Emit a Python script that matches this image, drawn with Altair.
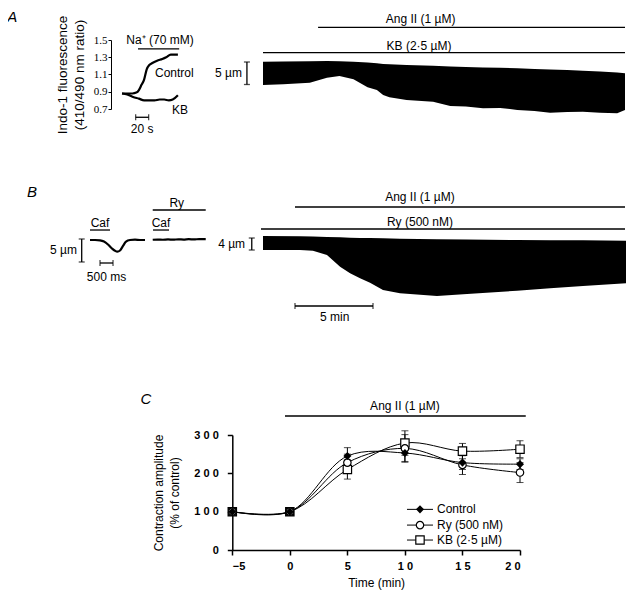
import altair as alt
import pandas as pd

# ====================== values ======================
# Panel A, left: indo-1 fluorescence ratio (410/490 nm) vs time (s)
na_ctrl_time = [0, 8, 16, 22, 26, 30, 34, 38, 42, 46, 54, 62, 68, 75, 86]
na_ctrl_ratio = [0.88, 0.88, 0.88, 0.89, 0.92, 0.98, 1.04, 1.16, 1.21, 1.23, 1.26, 1.28, 1.30, 1.33, 1.33]
na_kb_time = [0, 8, 17, 26, 34, 42, 50, 58, 65, 72, 78, 86]
na_kb_ratio = [0.88, 0.87, 0.84, 0.82, 0.80, 0.80, 0.80, 0.81, 0.81, 0.80, 0.81, 0.86]
ratio_ticks = [0.7, 0.9, 1.1, 1.3, 1.5]

# Panel A, right: cell length envelope in KB + Ang II (time in min, length in um)
kb_cell_time = [0, 1.3, 3.0, 4.1, 4.9, 5.8, 6.7, 7.3, 7.7, 8.1, 9.2, 10.9, 12.0, 13.0,
                14.1, 15.2, 16.3, 17.4, 18.4, 19.5, 20.5, 21.6, 22.7, 23.2]
kb_cell_top = [0.07, 0.11, 0.18, 0.22, 0.16, 0.04, -0.11, -0.3, -0.44, -0.51, -0.67, -0.84,
               -1.0, -1.1, -1.22, -1.3, -1.4, -1.53, -1.67, -1.8, -1.93, -2.13, -2.33, -2.51]
kb_cell_bottom = [-5.11, -4.96, -4.6, -3.49, -3.11, -3.84, -5.62, -6.2, -7.33, -7.84, -8.44,
                  -8.82, -9.78, -9.9, -10.29, -10.2, -10.67, -10.9, -11.27, -11.1, -11.04,
                  -11.3, -11.4, -10.67]

# Panel B, left: caffeine-induced contractures (time in ms, length in um)
caf_time = [0, 192, 385, 538, 692, 846, 962, 1050, 1154, 1269, 1385, 1538, 1731, 1923, 2115]
caf_length = [0, 0, -0.07, -0.33, -0.98, -1.85, -2.35, -2.54, -2.28, -1.30, -0.33, 0, 0.07, 0, 0]
caf_ry_time = [2412, 2600, 2800, 3000, 3200, 3400, 3600, 3800, 4000, 4200, 4450]
caf_ry_length = [0.05, 0.1, 0.05, 0.12, 0.08, 0.15, 0.1, 0.18, 0.12, 0.2, 0.2]

# Panel B, right: cell length envelope in Ry + Ang II (time in min, length in um)
ry_cell_time = [0, 2.37, 3.2, 4.1, 4.94, 5.58, 6.22, 6.86, 7.69, 8.78, 11.15, 13.08,
                16.28, 18.4, 20.51, 23.33]
ry_cell_top = [0, -0.1, -0.2, -0.3, -0.45, -0.57, -0.65, -0.7, -0.77, -0.9, -1.05, -1.15,
               -1.33, -1.38, -1.43, -1.57]
ry_cell_bottom = [-4.67, -4.67, -4.9, -6.33, -10.23, -12.43, -14.1, -15.57, -18.0, -19.1,
                  -20.0, -19.33, -18.23, -17.43, -16.67, -15.77]

# Panel C: contraction amplitude (% of control), mean and SEM
c_time = [-5, 0, 5, 10, 15, 20]
c_series = ["Control", "Ry (500 nM)", "KB (2·5 µM)"]
c_control = [100, 100, 245, 253, 228, 224]
c_control_sem = [0, 0, 22, 22, 18, 14]
c_ry = [100, 100, 228, 265, 222, 202]
c_ry_sem = [0, 0, 22, 36, 25, 26]
c_kb = [100, 100, 210, 279, 258, 263]
c_kb_sem = [0, 0, 25, 32, 20, 22]
c_amp_ticks = [0, 100, 200, 300]

# ====================== layout (page pixels) ======================
M = 8          # body margin of the page
W, H = 618, 583
FONT = "Liberation Sans"

FRAMES = {
    "A1": {"x": ([0, 88], (122, 179.2)), "y": ([0.7, 1.5], (109, 40))},
    "A2": {"x": ([0, 23.2], (263, 625)), "y": ([-10, 0], (107, 62))},
    "B1": {"x": ([0, 2115], (90, 145)), "y": ([-5, 0], (263, 240))},
    "B2": {"x": ([0, 23.2], (263, 625)), "y": ([-20, 0], (296, 236))},
    "C": {"x": ([-5, 20], (232.3, 520)), "y": ([0, 300], (550, 435))},
}


def sc(frame, ch):
    dom, (r0, r1) = FRAMES[frame][ch]
    return alt.Scale(domain=dom, range=[r0 - M, r1 - M], zero=False, nice=False)


def X(field, frame, axis=None):
    return alt.X(field, type="quantitative", scale=sc(frame, "x"), axis=axis)


def Y(field, frame, axis=None):
    return alt.Y(field, type="quantitative", scale=sc(frame, "y"), axis=axis)


def texts(frame, rows, align="center", size=12, style="normal"):
    df = pd.DataFrame(rows, columns=["x", "y", "label"])
    return alt.Chart(df).mark_text(
        align=align, baseline="middle", fontSize=size, fontStyle=style, font=FONT, color="black"
    ).encode(x=X("x", frame), y=Y("y", frame), text="label:N")


def rules(frame, rows, width=1.3):
    df = pd.DataFrame(rows, columns=["x0", "x1", "y"])
    return alt.Chart(df).mark_rule(color="black", strokeWidth=width).encode(
        x=X("x0", frame), x2="x1:Q", y=Y("y", frame))


def hbar(frame, rows):
    df = pd.DataFrame(rows, columns=["x0", "x1", "y"])
    return alt.Chart(df).mark_errorbar(color="black", thickness=1.3, ticks={"size": 6}).encode(
        x=X("x0", frame), x2="x1:Q", y=Y("y", frame))


def vbar(frame, rows):
    df = pd.DataFrame(rows, columns=["x", "y0", "y1"])
    return alt.Chart(df).mark_errorbar(color="black", thickness=1.3, ticks={"size": 6}).encode(
        x=X("x", frame), y=Y("y0", frame), y2="y1:Q")


layers = []

# ---------------- Panel A, left ----------------
a1 = pd.concat([
    pd.DataFrame({"t": na_ctrl_time, "r": na_ctrl_ratio, "s": "Control"}),
    pd.DataFrame({"t": na_kb_time, "r": na_kb_ratio, "s": "KB"}),
])
a1_axis = alt.Axis(
    orient="left", offset=-(111 - M), values=ratio_ticks, format=".1f",
    labelFont="Liberation Serif", labelFontSize=11, labelPadding=1, labelColor="black",
    tickSize=3, tickColor="black", domainColor="black", grid=False,
    title=["Indo-1 fluorescence", "(410/490 nm ratio)"], titleFont=FONT, titleFontSize=13.5,
    titleFontWeight=400, titleColor="black", titlePadding=7, titleLineHeight=17,
)
layers.append(alt.Chart(a1).mark_line(color="black", strokeWidth=2.2, interpolate="monotone").encode(
    x=X("t", "A1"), y=Y("r", "A1", axis=a1_axis), detail="s:N"))
layers.append(rules("A1", [(24.6, 88, 1.396)]))
layers.append(hbar("A1", [(21, 41, 0.604)]))
layers.append(texts("A1", [(58.5, 1.50, "Na⁺ (70 mM)"), (31, 0.472, "20 s")]))
layers.append(texts("A1", [(50.8, 1.114, "Control"), (77, 0.688, "KB")], align="left"))
layers.append(texts("A1", [(-169, 1.772, "A")], size=15, style="italic"))

# ---------------- Panel A, right ----------------
a2 = pd.DataFrame({"t": kb_cell_time, "top": kb_cell_top, "bot": kb_cell_bottom})
layers.append(alt.Chart(a2).mark_area(color="black", opacity=1).encode(
    x=X("t", "A2"), y=Y("bot", "A2"), y2="top:Q"))
layers.append(rules("A2", [(3.53, 23.2, 7.71), (0, 23.2, 2.08)]))
layers.append(vbar("A2", [(-1.03, 0.0, -5.0)]))
layers.append(texts("A2", [(10.1, 9.58, "Ang II (1 µM)"), (10.0, 3.54, "KB (2·5 µM)")]))
layers.append(texts("A2", [(-1.35, -2.5, "5 µm")], align="right"))

# ---------------- Panel B, left ----------------
b1 = pd.concat([
    pd.DataFrame({"t": caf_time, "v": caf_length, "s": "Caf"}),
    pd.DataFrame({"t": caf_ry_time, "v": caf_ry_length, "s": "Ry + Caf"}),
])
layers.append(alt.Chart(b1).mark_line(color="black", strokeWidth=2.2, interpolate="monotone").encode(
    x=X("t", "B1"), y=Y("v", "B1"), detail="s:N"))
layers.append(rules("B1", [(0, 769, 2.17), (2423, 3038, 2.17), (2412, 4450, 6.52)]))
layers.append(hbar("B1", [(385, 885, -5.0)]))
layers.append(vbar("B1", [(-319, 0.22, -4.78)]))
layers.append(texts("B1", [(385, 3.7, "Caf"), (2731, 3.7, "Caf"), (3335, 8.04, "Ry"),
                           (635, -8.04, "500 ms")]))
layers.append(texts("B1", [(-500, -2.2, "5 µm")], align="right"))
layers.append(texts("B1", [(-2231, 10.4, "B")], size=15, style="italic"))

# ---------------- Panel B, right ----------------
b2 = pd.DataFrame({"t": ry_cell_time, "top": ry_cell_top, "bot": ry_cell_bottom})
layers.append(alt.Chart(b2).mark_area(color="black", opacity=1).encode(
    x=X("t", "B2"), y=Y("bot", "B2"), y2="top:Q"))
layers.append(rules("B2", [(2.05, 23.2, 9.67), (-0.13, 23.2, 2.33)]))
layers.append(hbar("B2", [(2.05, 7.05, -23.33)]))
layers.append(vbar("B2", [(-0.72, -0.67, -4.67)]))
layers.append(texts("B2", [(10.06, 13.0, "Ang II (1 µM)"), (10.06, 4.67, "Ry (500 nM)"),
                           (4.6, -26.9, "5 min")]))
layers.append(texts("B2", [(-1.15, -2.67, "4 µm")], align="right"))

# ---------------- Panel C ----------------
c_means = [c_control, c_ry, c_kb]
c_sems = [c_control_sem, c_ry_sem, c_kb_sem]
c_rows = []
for name, mean, sem in zip(c_series, c_means, c_sems):
    for t, m, s in zip(c_time, mean, sem):
        c_rows.append({"s": name, "t": t, "v": m, "lo": m - s, "hi": m + s, "sem": s})
cdf = pd.DataFrame(c_rows)

spaced = "datum.value < 0 ? datum.label : join(split(datum.label, ''), ' ')"
cx_axis = alt.Axis(
    orient="bottom", offset=550 - (H + M), values=c_time, labelExpr=spaced,
    labelFont=FONT, labelFontWeight="bold", labelFontSize=11, labelPadding=5, labelColor="black",
    tickSize=5, tickWidth=1.5, domainWidth=1.5, tickColor="black", domainColor="black",
    grid=False, title="Time (min)", titleFont=FONT, titleFontSize=12, titleFontWeight=400,
    titleColor="black", titlePadding=6,
)
cy_axis = alt.Axis(
    orient="left", offset=-(232.3 - M), values=c_amp_ticks, labelExpr=spaced,
    labelFont=FONT, labelFontWeight="bold", labelFontSize=11, labelPadding=9, labelColor="black",
    tickSize=5, tickWidth=1.5, domainWidth=1.5, tickColor="black", domainColor="black",
    grid=False, title=["Contraction amplitude", "(% of control)"], titleFont=FONT,
    titleFontSize=12, titleFontWeight=400, titleColor="black", titlePadding=12,
    titleLineHeight=16,
)
layers.append(alt.Chart(cdf).mark_line(color="black", strokeWidth=1, interpolate="catmull-rom").encode(
    x=X("t", "C", axis=cx_axis), y=Y("v", "C", axis=cy_axis), detail="s:N"))
layers.append(alt.Chart(cdf[cdf["sem"] > 0]).mark_errorbar(
    color="black", thickness=1, ticks={"size": 7}).encode(
    x=X("t", "C"), y=Y("lo", "C"), y2="hi:Q"))


def c_points(df):
    out = []
    d_ctrl = df[df["s"] == c_series[0]]
    d_ry = df[df["s"] == c_series[1]]
    d_kb = df[df["s"] == c_series[2]]
    out.append(alt.Chart(d_kb).mark_point(shape="square", size=70, stroke="black", strokeWidth=1.2,
                                          opacity=1).encode(
        x=X("t", "C"), y=Y("v", "C"),
        fill=alt.condition("datum.t <= 0", alt.value("black"), alt.value("white"))))
    out.append(alt.Chart(d_ry).mark_point(shape="circle", size=55, stroke="black", fill="white",
                                          strokeWidth=1.2, opacity=1).encode(
        x=X("t", "C"), y=Y("v", "C")))
    out.append(alt.Chart(d_ctrl).mark_point(shape="diamond", size=65, color="black", filled=True,
                                            opacity=1).encode(
        x=X("t", "C"), y=Y("v", "C")))
    return out


layers.extend(c_points(cdf))
layers.append(rules("C", [(-0.42, 20.5, 349.6)]))
layers.append(texts("C", [(10.0, 375.7, "Ang II (1 µM)")]))
layers.append(texts("C", [(-12.5, 394, "C")], size=15, style="italic"))

# legend (inside the plot, lower right)
leg = pd.DataFrame({"s": c_series, "y": [106, 65, 26], "x0": [10.18] * 3, "x1": [12.44] * 3,
                    "xm": [11.31] * 3, "xt": [12.79] * 3})
layers.append(alt.Chart(leg).mark_rule(color="black", strokeWidth=1).encode(
    x=X("x0", "C"), x2="x1:Q", y=Y("y", "C")))
leg_pts = pd.DataFrame({"s": leg["s"], "t": leg["xm"], "v": leg["y"]})
for lay in c_points(leg_pts):
    layers.append(lay)
layers.append(alt.Chart(leg).mark_text(align="left", baseline="middle", fontSize=12, font=FONT,
                                       color="black").encode(
    x=X("xt", "C"), y=Y("y", "C"), text="s:N"))

chart = alt.layer(*layers).resolve_scale(x="independent", y="independent").properties(
    width=W, height=H, padding=0, autosize=alt.AutoSizeParams(type="none"),
).configure_view(stroke=None).configure_axis(grid=False)

chart.save("out.html", embed_options={"renderer": "svg", "actions": False})
